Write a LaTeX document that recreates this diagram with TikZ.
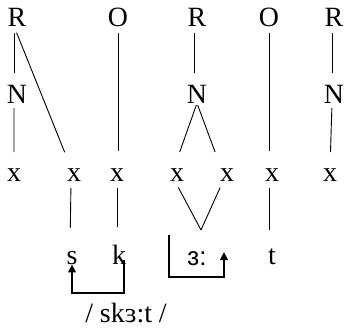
\documentclass[tikz,border=0pt]{standalone}
\usepackage{fontspec}
\setmainfont{Liberation Serif}
\newfontfamily\ipasans{Liberation Sans}
\usetikzlibrary{arrows.meta}

\begin{document}
\begin{tikzpicture}[
  x=1bp, y=-1bp,
  seg/.style={inner sep=0pt, anchor=base, font=\fontsize{28}{32}\selectfont},
  link/.style={draw=black, line width=0.9bp},
  hop/.style={draw=black, line width=2.2bp, -{Triangle[length=8bp, width=7.5bp]}}
]
\useasboundingbox (0,0) rectangle (344,329);

% tiers: rhymes, onsets, nuclei
\node[seg] (R1) at (17,26) {R};
\node[seg] (O1) at (118,26) {O};
\node[seg] (R2) at (197,26) {R};
\node[seg] (O2) at (269,26) {O};
\node[seg] (R3) at (334,26) {R};
\node[seg] (N1) at (17,103) {N};
\node[seg] (N2) at (197,103) {N};
\node[seg] (N3) at (334,103) {N};

% skeleton
\node[seg] (x1) at (14,181) {x};
\node[seg] (x2) at (74,181) {x};
\node[seg] (x3) at (117,181) {x};
\node[seg] (x4) at (177,181) {x};
\node[seg] (x5) at (227,181) {x};
\node[seg] (x6) at (272,181) {x};
\node[seg] (x7) at (330,181) {x};

% melody
\node[seg] (s) at (72,264) {s};
\node[seg] (k) at (119,264) {k};
\node[seg, font=\ipasans\fontsize{26}{30}\selectfont] (er) at (197,265) {ɜ:};
\node[seg] (t) at (272,264) {t};
\coordinate (V) at (201,230);
\node[seg] (form) at (126,322) {/ skɜ:t /};

% association lines
\draw[link, shorten <=7bp, shorten >=11.5bp] ([xshift=-3bp]R1.south) -- ([xshift=-3bp]N1.north);
\draw[link, shorten <=5bp, shorten >=16bp] ([xshift=-3bp]N1.south) -- (x1.north);
\draw[link, shorten <=7bp, shorten >=17bp] ([xshift=-3bp]R1.south) -- ([xshift=-3bp]x2.north);
\draw[link, shorten <=7bp, shorten >=17bp] (O1.south) -- (O1.south |- x3.north);
\draw[link, shorten <=7bp, shorten >=11.5bp] ([xshift=-3bp]R2.south) -- ([xshift=-3bp]N2.north);
\draw[link, shorten <=2bp, shorten >=17bp] (N2.south) -- ([xshift=-3bp]x4.north);
\draw[link, shorten <=2bp, shorten >=17bp] (N2.south) -- ([xshift=-6bp]x5.north);
\draw[link, shorten <=7bp, shorten >=17bp] (O2.south) -- (O2.south |- x6.north);
\draw[link, shorten <=7bp, shorten >=11.5bp] ([xshift=-2bp]R3.south) -- ([xshift=-2bp]N3.north);
\draw[link, shorten <=5bp, shorten >=16bp] ([xshift=-2bp]N3.south) -- (x7.north);

\draw[link, shorten <=7bp, shorten >=23bp] ([xshift=-3bp]x2.south) -- ([xshift=-2bp]s.north);
\draw[link, shorten <=7bp, shorten >=17bp] (x3.south) -- (x3.south |- k.north);
\draw[link, shorten <=7bp] ([xshift=-2bp]x4.south) -- (V);
\draw[link, shorten <=7bp] ([xshift=-4bp]x5.south) -- (V);
\draw[link, shorten <=7bp, shorten >=18bp] ([xshift=-3bp]x6.south) -- ([xshift=-3bp]t.north);

% metathesis arrows
\coordinate (kfoot) at (124,260);
\draw[hop] (kfoot) |- (72,293) -- (s.south);
\coordinate (erin) at (169,235);
\coordinate (erout) at (224,252);
\draw[hop] (erin) |- (224,277) -- (erout);
\end{tikzpicture}
\end{document}
